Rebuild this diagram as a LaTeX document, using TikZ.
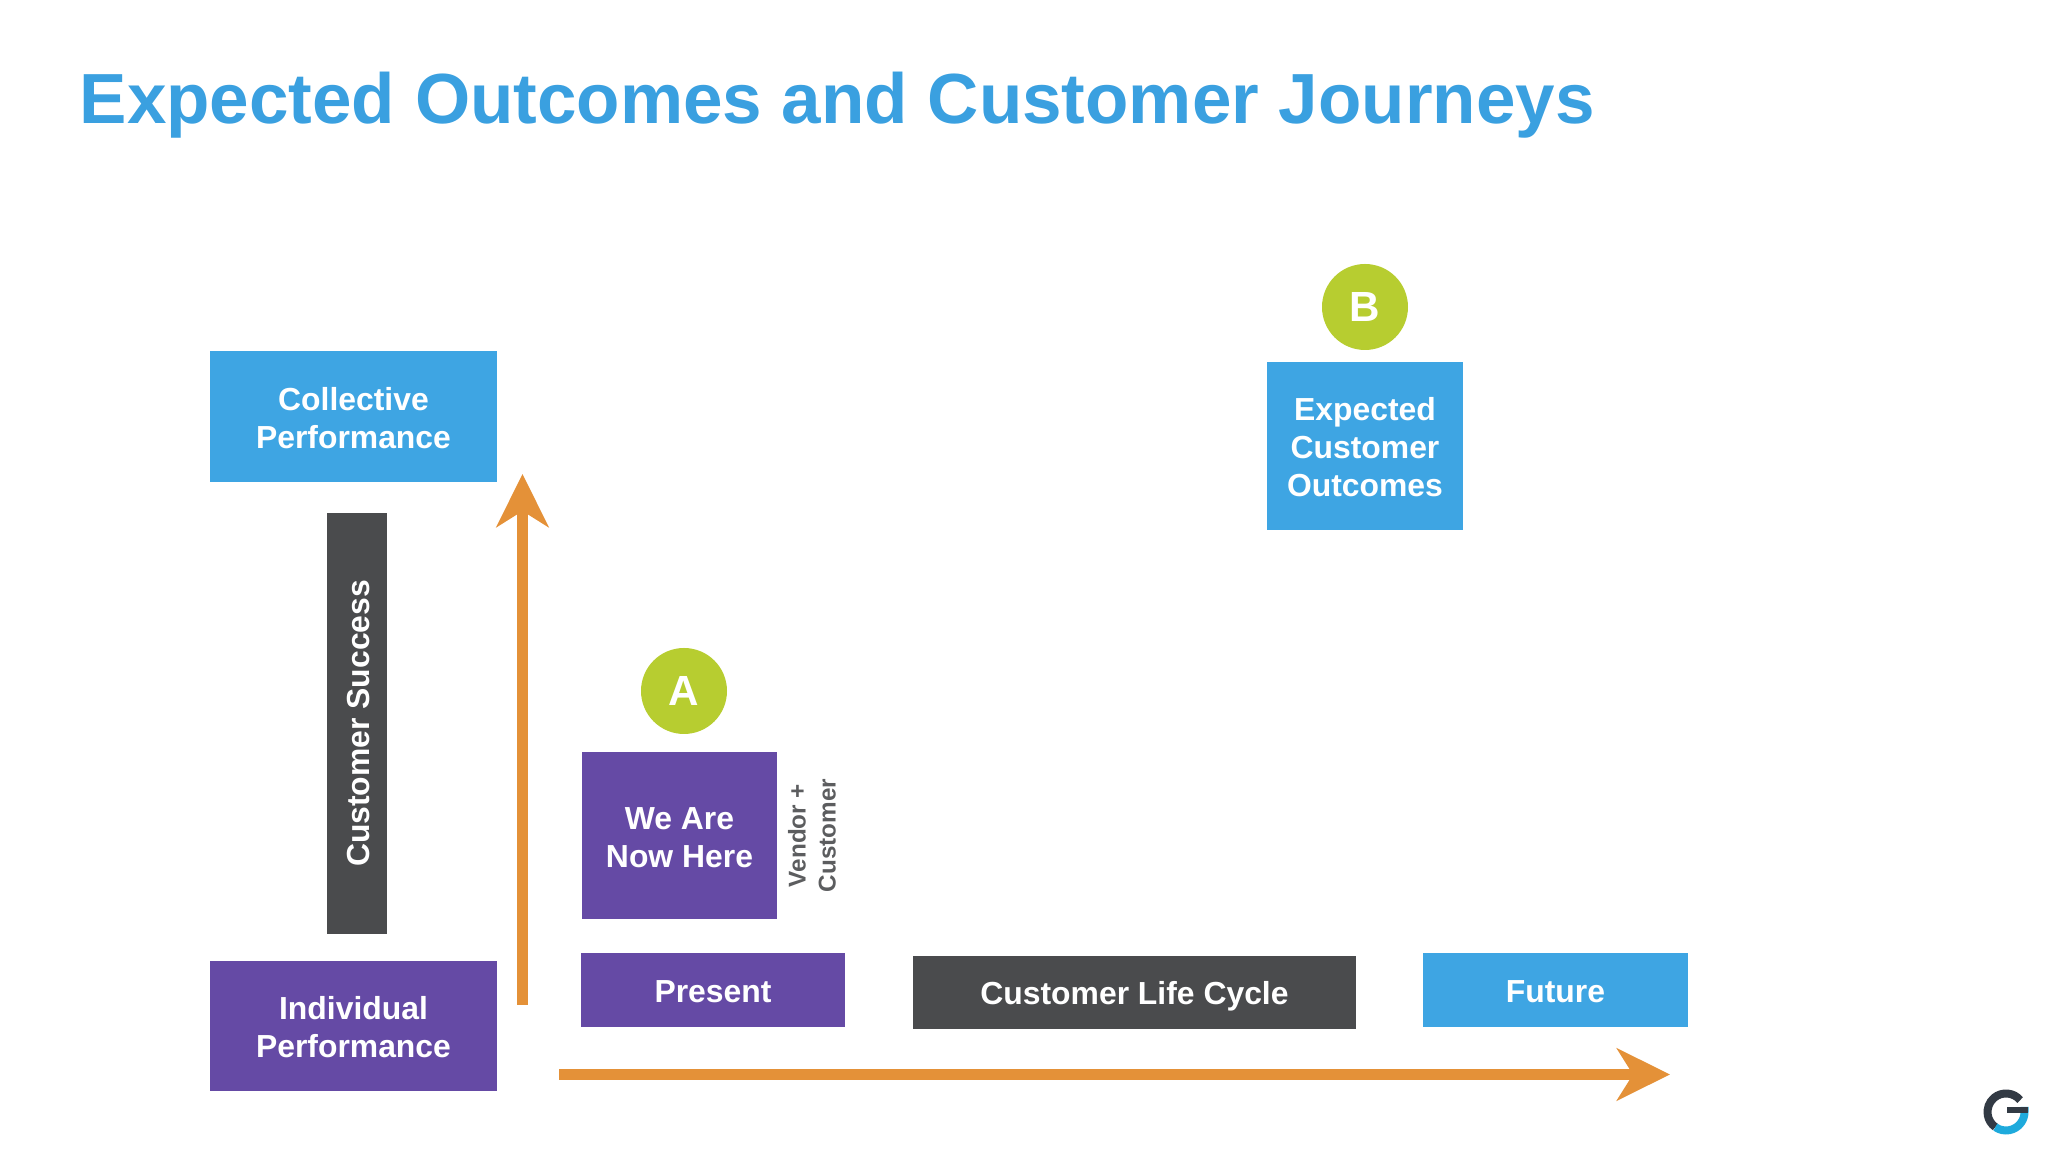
\documentclass[tikz,border=0pt]{standalone}
\usepackage{fontspec}
\setmainfont{Liberation Sans}
\usepackage{xcolor}
\usetikzlibrary{arrows.meta}
\definecolor{boxblue}{RGB}{62,165,227}
\definecolor{titleblue}{RGB}{58,160,224}
\definecolor{boxpurple}{RGB}{101,74,165}
\definecolor{boxdark}{RGB}{74,75,77}
\definecolor{arroworange}{RGB}{228,145,56}
\definecolor{markgreen}{RGB}{183,205,48}
\definecolor{logodark}{RGB}{50,58,68}
\definecolor{logocyan}{RGB}{30,170,220}
\tikzset{
  box/.style={rectangle, inner sep=0pt, align=center, text=white, font=\fontsize{9.07}{10.8}\selectfont\bfseries},
  bluebox/.style={box, fill=boxblue},
  purplebox/.style={box, fill=boxpurple},
  darkbox/.style={box, fill=boxdark},
  texth/.style={text height=#1, text depth=0pt}, % sets how low the text sits in its box
  badge/.style={circle, fill=markgreen, inner sep=0pt, minimum size=.86cm, text=white, font=\fontsize{12}{14}\selectfont\bfseries},
  note/.style={inner sep=0pt, align=center, rotate=90, text=boxdark!90, font=\fontsize{6.9}{8.5}\selectfont\bfseries},
  heading/.style={inner sep=0pt, anchor=base west, text=titleblue, font=\fontsize{20.2}{24}\selectfont\bfseries},
  bigarrow/.style={-{Stealth[length=.53cm,width=.52cm,inset=.16cm]}, line width=.11cm, draw=arroworange},
  logoarc/.style={line width=.08cm}
}
\begin{document}
\begin{tikzpicture}
  \useasboundingbox (0,0) rectangle (20.48,11.52);

  % Title
  \node[heading] (T) at (0.79,10.28) {Expected Outcomes and Customer Journeys};

  % Vertical axis
  \node[bluebox, texth=18.14pt, minimum width=2.87cm, minimum height=1.31cm] (CP) at (3.535,7.355) {Collective\\Performance};
  \node[darkbox, texth=7.1pt, rotate=90, minimum width=4.21cm, minimum height=.60cm] (CS) at (3.57,4.285) {Customer Success};
  \node[purplebox, texth=18.14pt, minimum width=2.87cm, minimum height=1.30cm] (IP) at (3.535,1.26) {Individual\\Performance};

  % Time line
  \node[purplebox, texth=.26cm, minimum width=2.64cm, minimum height=.74cm] (PR) at (7.13,1.62) {Present};
  \node[darkbox, texth=.246cm, minimum width=4.43cm, minimum height=.73cm] (CL) at (11.345,1.595) {Customer Life Cycle};
  \node[bluebox, texth=.26cm, minimum width=2.65cm, minimum height=.74cm] (FU) at (15.555,1.62) {Future};

  % Points A and B
  \node[purplebox, texth=18.14pt, minimum width=1.95cm, minimum height=1.67cm] (WH) at (6.795,3.165) {We Are\\Now Here};
  \node[badge] (MA) at (6.84,4.61) {A};
  \node[note] (VC) at (8.12,3.165) {Vendor +\\Customer};
  \node[bluebox, texth=28.94pt, minimum width=1.96cm, minimum height=1.68cm] (EO) at (13.65,7.06) {Expected\\Customer\\Outcomes};
  \node[badge] (MB) at (13.65,8.45) {B};

  % Axis arrows
  \coordinate (VS) at (5.225,1.47);
  \coordinate (VE) at (5.225,6.78);
  \coordinate (HS) at (5.59,0.775);
  \coordinate (HE) at (16.70,0.775);
  \draw[bigarrow] (VS) -- (VE);
  \draw[bigarrow] (HS) -- (HE);

  % Logo
  \draw[logoarc, draw=logodark] (20.06,0.40) ++(40:.185) arc (40:235:.185);
  \draw[logoarc, draw=logocyan] (20.06,0.40) ++(235:.185) arc (235:360:.185) -- ++(0,.05);
  \draw[line width=.06cm, draw=logodark] (20.07,0.42) -- (20.28,0.42);
\end{tikzpicture}
\end{document}
